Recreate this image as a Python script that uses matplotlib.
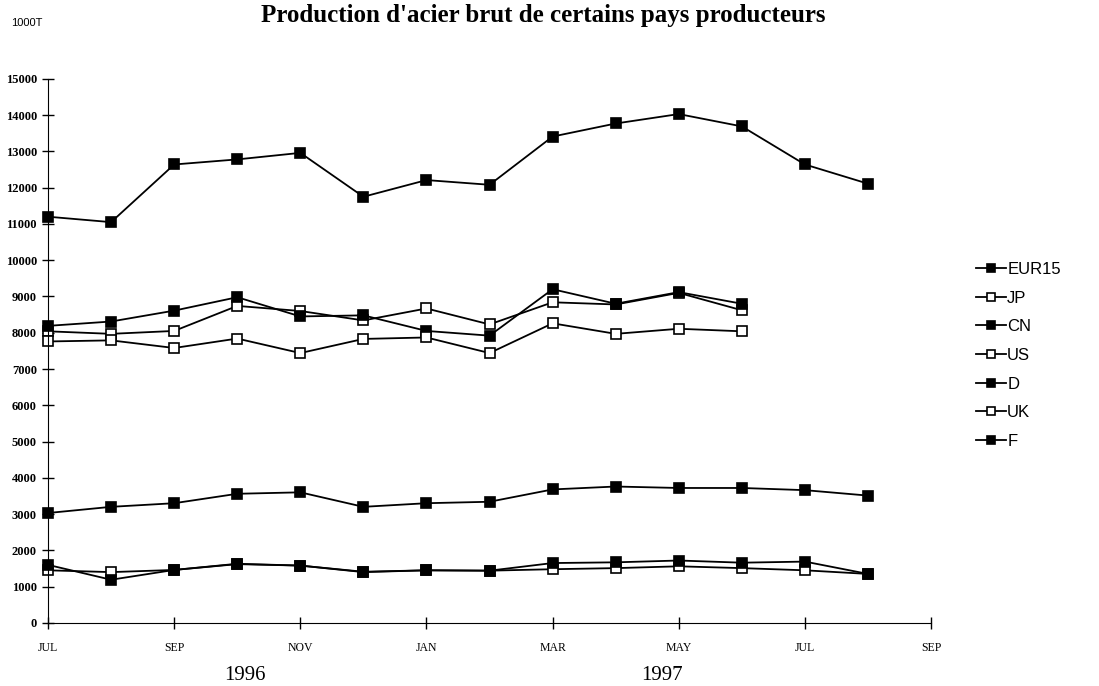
import matplotlib
matplotlib.use('Agg')
from matplotlib import pyplot as plt

# mois: 0 = JUL 1996 ... 14 = SEP 1997
months = list(range(14))
tick_pos = [0, 2, 4, 6, 8, 10, 12, 14]
tick_labels = ['JUL', 'SEP', 'NOV', 'JAN', 'MAR', 'MAY', 'JUL', 'SEP']

eur15 = [11200, 11050, 12640, 12780, 12960, 11750, 12210, 12080, 13410, 13770, 14030, 13690, 12640, 12110]
jp = [8040, 7970, 8050, 8740, 8600, 8340, 8670, 8230, 8840, 8780, 9100, 8620]
cn = [8190, 8310, 8610, 8980, 8450, 8480, 8050, 7920, 9200, 8800, 9120, 8800]
us = [7760, 7790, 7580, 7840, 7440, 7830, 7870, 7440, 8260, 7970, 8110, 8040]
d = [3030, 3200, 3300, 3560, 3600, 3200, 3300, 3340, 3680, 3760, 3720, 3720, 3660, 3510]
uk = [1450, 1400, 1460, 1620, 1580, 1410, 1450, 1440, 1480, 1510, 1560, 1510, 1450, 1350]
f = [1600, 1190, 1460, 1630, 1580, 1400, 1450, 1440, 1650, 1670, 1720, 1660, 1690, 1350]

series = [('EUR15', eur15, 'black'), ('JP', jp, 'white'), ('CN', cn, 'black'),
          ('US', us, 'white'), ('D', d, 'black'), ('UK', uk, 'white'), ('F', f, 'black')]

fig = plt.figure(figsize=(10.99, 6.86), dpi=100)
ax = fig.add_axes([0.0437, 0.092, 0.8035, 0.793])

for name, vals, fc in series:
    ax.plot(months[:len(vals)], vals, color='black', lw=1.3, marker='s', ms=7.5,
            mfc=fc, mec='black', mew=1.2, label=name, clip_on=False)

ax.set_xlim(0, 14)
ax.set_ylim(0, 15000)
ax.set_yticks(range(0, 15001, 1000))
ax.set_xticks(tick_pos)
ax.set_xticklabels(tick_labels)
for s in ['top', 'right']:
    ax.spines[s].set_visible(False)
ax.tick_params(axis='y', direction='inout', length=8, width=1, pad=4)
ax.tick_params(axis='x', direction='inout', length=8, width=1, pad=10)
for lab in ax.get_yticklabels():
    lab.set_fontfamily('Liberation Serif')
    lab.set_fontweight('bold')
    lab.set_fontsize(9)
for lab in ax.get_xticklabels():
    lab.set_fontfamily('Liberation Serif')
    lab.set_fontsize(8.5)

fig.text(0.494, 0.978, "Production d'acier brut de certains pays producteurs",
         ha='center', va='center', fontsize=18, fontweight='bold', family='Liberation Serif')
fig.text(0.01, 0.967, '1000T', ha='left', va='center', fontsize=8, family='Liberation Sans')
fig.text(0.223, 0.016, '1996', ha='center', va='center', fontsize=15, family='Liberation Serif')
fig.text(0.602, 0.016, '1997', ha='center', va='center', fontsize=15, family='Liberation Serif')

fig.legend(loc='center left', bbox_to_anchor=(0.874, 0.482), frameon=False,
           prop={'family': 'Liberation Sans', 'size': 12}, handlelength=1.8,
           handletextpad=0.1, labelspacing=0.82, markerscale=0.7)

fig.savefig('out.png', dpi=100)
plt.close()
